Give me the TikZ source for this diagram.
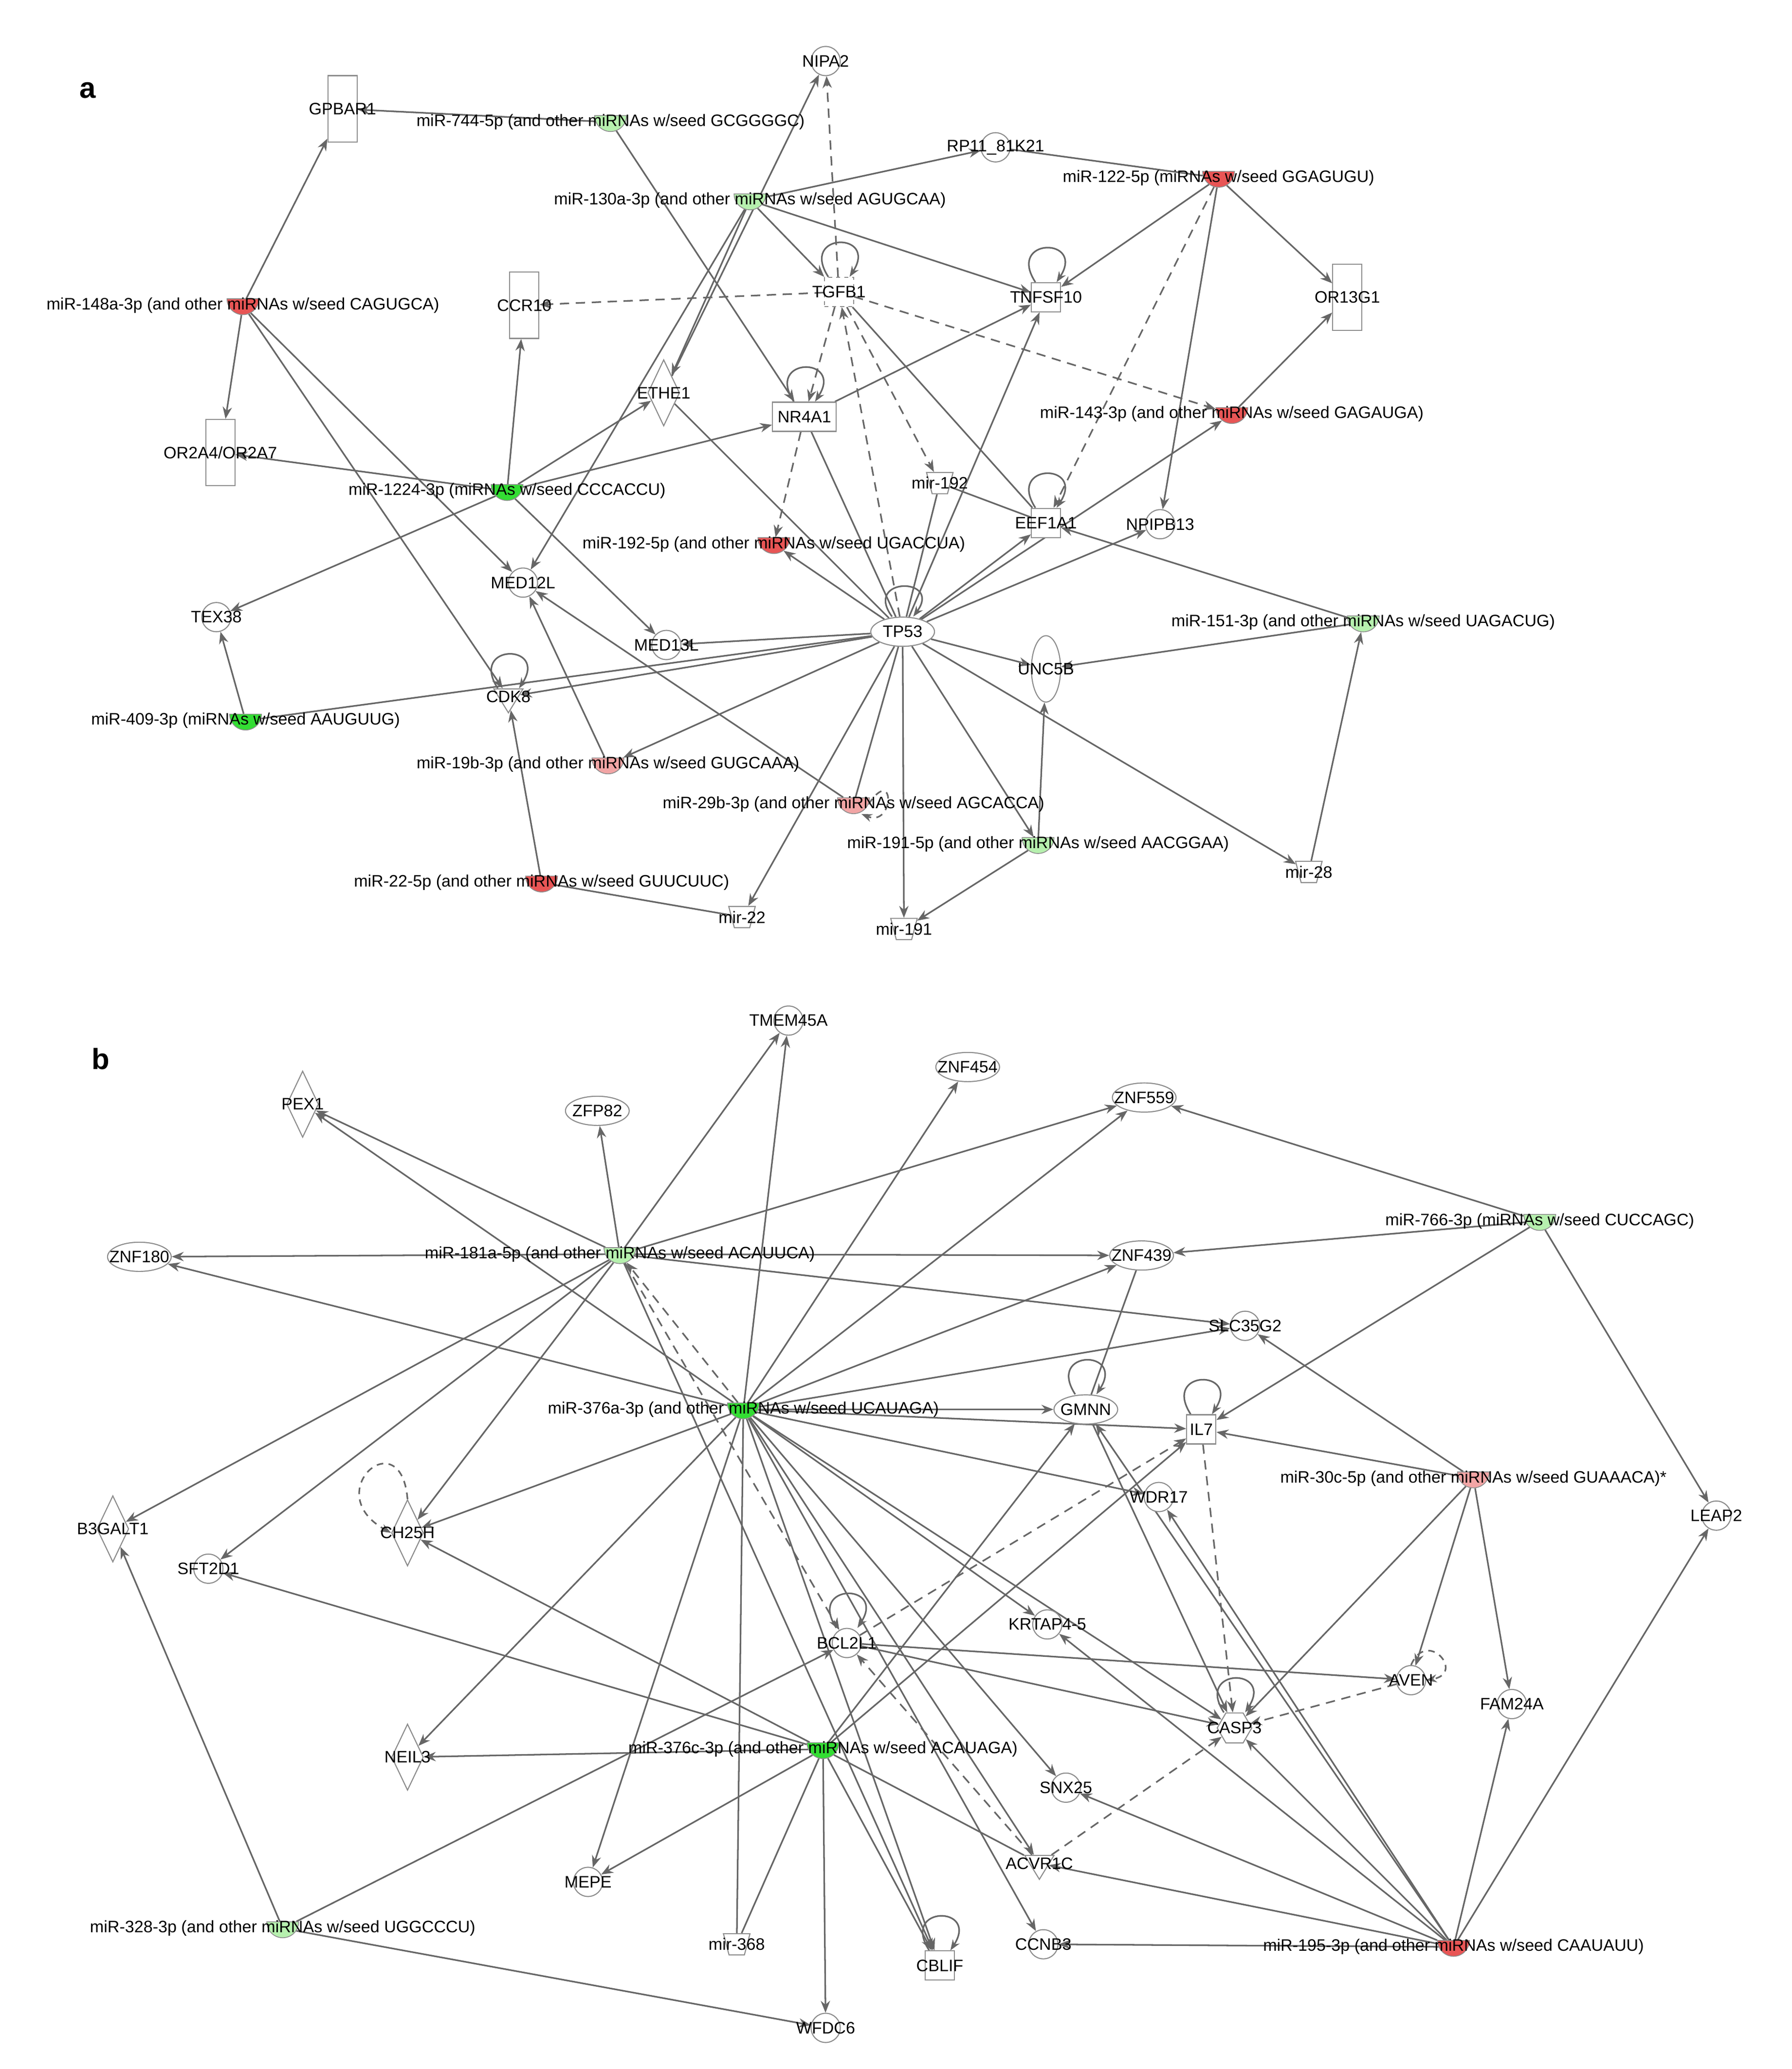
\documentclass[tikz,border=0pt]{standalone}
\usepackage{fontspec}
\setmainfont{Liberation Sans}
\usetikzlibrary{shapes.geometric,arrows.meta,backgrounds}
\definecolor{gG}{HTML}{33DD33}
\definecolor{lG}{HTML}{B6F0AE}
\definecolor{rR}{HTML}{E85555}
\definecolor{pR}{HTML}{F2A5A5}
\definecolor{ln}{HTML}{666666}
\definecolor{bd}{HTML}{8C8C8C}
\begin{document}
\begin{tikzpicture}[x=1pt,y=-1pt,
  every label/.style={font=\fontsize{12.5}{14}\selectfont,inner sep=0},
  base/.style={draw=bd,fill=white,inner sep=0,line width=0.8pt},
  circ/.style={base,circle,minimum size=22pt},
  sq/.style={base,rectangle,minimum size=22pt},
  trect/.style={base,rectangle,minimum width=22pt,minimum height=50pt},
  wrect/.style={base,rectangle,minimum width=48pt,minimum height=22pt},
  dia/.style={base,diamond,minimum width=24pt,minimum height=50pt},
  ell/.style={base,ellipse,minimum width=48pt,minimum height=22pt},
  tell/.style={base,ellipse,minimum width=22pt,minimum height=50pt},
  tri/.style={base,inner sep=1pt,isosceles triangle,shape border rotate=270,minimum width=22pt,minimum height=18pt,isosceles triangle stretches},
  trap/.style={base,inner sep=1pt,trapezium,trapezium stretches=true,shape border rotate=180,minimum width=20pt,minimum height=16pt,trapezium left angle=70,trapezium right angle=70},
  hex/.style={base,regular polygon,regular polygon sides=6,minimum size=26pt},
  mir/.style={semicircle,shape border rotate=180,draw=bd,line width=0.6pt,fill=#1,minimum width=24pt,inner sep=1pt,minimum height=12pt},
  e/.style={draw=ln,line width=1.2pt,-{Stealth[length=9pt,width=7pt]}},
  l/.style={draw=ln,line width=1.2pt},
  d/.style={e,dash pattern=on 7pt off 5pt},
  lp/.style={draw=ln,line width=1.2pt,-{Stealth[length=8pt,width=6pt]}},
  dlp/.style={lp,dash pattern=on 5pt off 4pt}]
\useasboundingbox (0,0) rectangle (1350,1559);
\node[font=\fontsize{22}{24}\selectfont\bfseries] (la) at (66,68) {a};
\node[font=\fontsize{22}{24}\selectfont\bfseries] (lb) at (76,798) {b};
% ---------- panel a nodes
\node[trect,label={center:GPBAR1}] (gpbar1) at (258,82) {};
\node[mir=lG,label={center:miR-744-5p (and other miRNAs w/seed GCGGGGC)}] (m744) at (460,92) {};
\node[circ,label={center:NIPA2}] (nipa2) at (622,46) {};
\node[circ,label={center:RP11\_81K21}] (rp11) at (750,111) {};
\node[mir=rR,label={center:miR-122-5p (miRNAs w/seed GGAGUGU)}] (m122) at (918,134) {};
\node[mir=lG,label={center:miR-130a-3p (and other miRNAs w/seed AGUGCAA)}] (m130) at (565,151) {};
\node[sq,dashed,label={center:TGFB1}] (tgfb1) at (632,220) {};
\node[sq,label={center:TNFSF10}] (tnfsf10) at (788,224) {};
\node[trect,label={center:OR13G1}] (or13g1) at (1015,224) {};
\node[trect,label={center:CCR10}] (ccr10) at (395,230) {};
\node[mir=rR,label={center:miR-148a-3p (and other miRNAs w/seed CAGUGCA)}] (m148) at (183,230) {};
\node[dia,label={center:ETHE1}] (ethe1) at (500,296) {};
\node[wrect,label={center:NR4A1}] (nr4a1) at (606,314) {};
\node[mir=rR,label={center:miR-143-3p (and other miRNAs w/seed GAGAUGA)}] (m143) at (928,312) {};
\node[trect,label={center:OR2A4/OR2A7}] (or2a4) at (166,341) {};
\node[mir=gG,label={center:miR-1224-3p (miRNAs w/seed CCCACCU)}] (m1224) at (382,370) {};
\node[trap,label={center:mir-192}] (mir192) at (708,364) {};
\node[sq,label={center:EEF1A1}] (eef1a1) at (788,394) {};
\node[circ,label={center:NPIPB13}] (npipb13) at (874,395) {};
\node[mir=rR,label={center:miR-192-5p (and other miRNAs w/seed UGACCUA)}] (m192) at (583,410) {};
\node[circ,label={center:MED12L}] (med12l) at (394,439) {};
\node[circ,label={center:TEX38}] (tex38) at (163,465) {};
\node[ell,label={center:TP53}] (tp53) at (680,476) {};
\node[mir=lG,label={center:miR-151-3p (and other miRNAs w/seed UAGACUG)}] (m151) at (1027,469) {};
\node[circ,label={center:MED13L}] (med13l) at (502,486) {};
\node[tell,label={center:UNC5B}] (unc5b) at (788,504) {};
\node[tri,label={center:CDK8}] (cdk8) at (383,525) {};
\node[mir=gG,label={center:miR-409-3p (miRNAs w/seed AAUGUUG)}] (m409) at (185,543) {};
\node[mir=pR,label={center:miR-19b-3p (and other miRNAs w/seed GUGCAAA)}] (m19b) at (458,576) {};
\node[mir=pR,label={center:miR-29b-3p (and other miRNAs w/seed AGCACCA)}] (m29b) at (643,606) {};
\node[mir=lG,label={center:miR-191-5p (and other miRNAs w/seed AACGGAA)}] (m191) at (782,636) {};
\node[trap,label={center:mir-28}] (mir28) at (986,657) {};
\node[mir=rR,label={center:miR-22-5p (and other miRNAs w/seed GUUCUUC)}] (m22) at (408,665) {};
\node[trap,label={center:mir-22}] (mir22) at (559,691) {};
\node[trap,label={center:mir-191}] (mir191) at (681,700) {};
% ---------- panel b nodes
\node[circ,label={center:TMEM45A}] (tmem) at (594,769) {};
\node[ell,label={center:ZNF454}] (znf454) at (729,804) {};
\node[dia,label={center:PEX1}] (pex1) at (228,832) {};
\node[ell,label={center:ZFP82}] (zfp82) at (450,837) {};
\node[ell,label={center:ZNF559}] (znf559) at (862,827) {};
\node[mir=lG,label={center:miR-766-3p (miRNAs w/seed CUCCAGC)}] (m766) at (1160,920) {};
\node[ell,label={center:ZNF180}] (znf180) at (105,947) {};
\node[mir=lG,label={center:miR-181a-5p (and other miRNAs w/seed ACAUUCA)}] (m181) at (467,945) {};
\node[ell,label={center:ZNF439}] (znf439) at (860,946) {};
\node[circ,label={center:SLC35G2}] (slc) at (938,999) {};
\node[mir=gG,label={center:miR-376a-3p (and other miRNAs w/seed UCAUAGA)}] (m376a) at (560,1062) {};
\node[ell,label={center:GMNN}] (gmnn) at (818,1062) {};
\node[sq,label={center:IL7}] (il7) at (905,1077) {};
\node[mir=pR,label={center:miR-30c-5p (and other miRNAs w/seed GUAAACA)*}] (m30c) at (1110,1114) {};
\node[circ,label={center:WDR17}] (wdr17) at (873,1128) {};
\node[circ,label={center:LEAP2}] (leap2) at (1293,1142) {};
\node[dia,label={center:B3GALT1}] (b3galt1) at (85,1152) {};
\node[dia,label={center:CH25H}] (ch25h) at (307,1155) {};
\node[circ,label={center:SFT2D1}] (sft2d1) at (157,1182) {};
\node[circ,label={center:KRTAP4-5}] (krtap) at (789,1224) {};
\node[circ,label={center:BCL2L1}] (bcl2l1) at (638,1238) {};
\node[circ,label={center:AVEN}] (aven) at (1063,1266) {};
\node[circ,label={center:FAM24A}] (fam24a) at (1139,1284) {};
\node[hex,label={center:CASP3}] (casp3) at (930,1302) {};
\node[dia,label={center:NEIL3}] (neil3) at (307,1324) {};
\node[mir=gG,label={center:miR-376c-3p (and other miRNAs w/seed ACAUAGA)}] (m376c) at (620,1318) {};
\node[circ,label={center:SNX25}] (snx25) at (803,1347) {};
\node[tri,label={center:ACVR1C}] (acvr1c) at (783,1404) {};
\node[circ,label={center:MEPE}] (mepe) at (443,1418) {};
\node[mir=lG,label={center:miR-328-3p (and other miRNAs w/seed UGGCCCU)}] (m328) at (213,1453) {};
\node[trap,label={center:mir-368}] (mir368) at (555,1465) {};
\node[sq,label={center:CBLIF}] (cblif) at (708,1481) {};
\node[circ,label={center:CCNB3}] (ccnb3) at (786,1465) {};
\node[mir=rR,label={center:miR-195-3p (and other miRNAs w/seed CAAUAUU)}] (m195) at (1095,1467) {};
\node[circ,label={center:WFDC6}] (wfdc6) at (622,1528) {};
\begin{pgfonlayer}{background}
% ---------- panel a edges
\path[e] (m744) -- (gpbar1);
\path[e] (m744) -- (nr4a1);
\path[e] (m130) -- (rp11);
\path[e] (m130) -- (tgfb1);
\path[e] (m130) -- (tnfsf10);
\path[e] (m130) -- (med12l);
\path[e] (m130) -- (ethe1);
\path[e] (ethe1) -- (nipa2);
\path[d] (tgfb1) -- (nipa2);
\path[l] (m122) -- (rp11);
\path[e] (m122) -- (tnfsf10);
\path[e] (m122) -- (or13g1);
\path[e] (m122) -- (npipb13);
\path[d] (m122) -- (eef1a1);
\path[d] (tgfb1) -- (ccr10);
\path[d] (tgfb1) -- (m143);
\path[d] (tgfb1) -- (nr4a1);
\path[d] (tgfb1) -- (mir192);
\path[d] (tp53) -- (tgfb1);
\path[l] (tgfb1) -- (eef1a1);
\path[e] (nr4a1) -- (tnfsf10);
\path[e] (tp53) -- (tnfsf10);
\path[e] (m143) -- (or13g1);
\path[e] (m148) -- (gpbar1);
\path[e] (m148) -- (or2a4);
\path[e] (m148) -- (med12l);
\path[e] (m148) -- (cdk8);
\path[e] (m1224) -- (ccr10);
\path[e] (m1224) -- (or2a4);
\path[e] (m1224) -- (ethe1);
\path[e] (m1224) -- (nr4a1);
\path[e] (m1224) -- (tex38);
\path[e] (m1224) -- (med13l);
\path[l] (ethe1) -- (tp53);
\path[l] (nr4a1) -- (tp53);
\path[d] (nr4a1) -- (m192);
\path[l] (mir192) -- (tp53);
\path[l] (mir192) -- (eef1a1);
\path[e] (tp53) -- (m143);
\path[e] (tp53) -- (eef1a1);
\path[e] (tp53) -- (npipb13);
\path[e] (tp53) -- (m192);
\path[e] (tp53) -- (med13l);
\path[e] (tp53) -- (cdk8);
\path[l] (m409) -- (tp53);
\path[e] (m409) -- (tex38);
\path[e] (tp53) -- (unc5b);
\path[e] (tp53) -- (m19b);
\path[l] (tp53) -- (m29b);
\path[e] (tp53) -- (mir22);
\path[e] (tp53) -- (mir191);
\path[e] (tp53) -- (m191);
\path[e] (tp53) -- (mir28);
\path[e] (m151) -- (unc5b);
\path[e] (m151) -- (eef1a1);
\path[e] (mir28) -- (m151);
\path[e] (m191) -- (unc5b);
\path[e] (m191) -- (mir191);
\path[e] (m19b) -- (med12l);
\path[e] (m29b) -- (med12l);
\path[e] (m22) -- (cdk8);
\path[l] (m22) -- (mir22);
% self loops
\foreach \n in {tgfb1,tnfsf10,nr4a1,eef1a1,cdk8,gmnn,il7,bcl2l1,casp3,cblif}
  \path[lp] ([xshift=-8pt]\n.north) .. controls +(-22,-34) and +(22,-34) .. ([xshift=8pt]\n.north);
\path[lp] ([xshift=-8pt]tp53.north) .. controls +(-22,-30) and +(22,-30) .. ([xshift=8pt]tp53.north);
\path[dlp] (m29b.east) .. controls +(20,-30) and +(25,10) .. ([xshift=6pt]m29b.south);
\path[dlp] (aven.north) .. controls +(12,-28) and +(30,-5) .. (aven.east);
\path[dlp] (ch25h.north) .. controls +(-5,-60) and +(-55,-30) .. (ch25h.west);
% ---------- panel b edges
\foreach \t in {pex1,zfp82,tmem,znf559,znf180,znf439,slc,b3galt1,sft2d1,ch25h,cblif}
  \path[e] (m181) -- (\t);
\path[d] (m181) -- (bcl2l1);
\foreach \t in {pex1,tmem,znf454,znf559,znf439,slc,gmnn,il7,wdr17,znf180,ch25h,neil3,mepe,krtap,casp3,snx25,ccnb3,acvr1c,cblif}
  \path[e] (m376a) -- (\t);
\path[l] (m376a) -- (mir368);
\path[d] (m376a) -- (m181);
\foreach \t in {znf559,znf439,il7,leap2}
  \path[e] (m766) -- (\t);
\foreach \t in {slc,il7,aven,fam24a,casp3}
  \path[e] (m30c) -- (\t);
\foreach \t in {wdr17,leap2,fam24a,casp3,krtap,snx25,ccnb3,acvr1c,gmnn}
  \path[e] (m195) -- (\t);
\foreach \t in {sft2d1,ch25h,neil3,mepe,wfdc6,cblif,il7,gmnn}
  \path[e] (m376c) -- (\t);
\path[l] (m376c) -- (mir368);
\path[l] (m376c) -- (acvr1c);
\path[e] (m328) -- (b3galt1);
\path[e] (m328) -- (wfdc6);
\path[e] (m328) -- (bcl2l1);
\path[e] (bcl2l1) -- (aven);
\path[e] (bcl2l1) -- (casp3);
\path[d] (bcl2l1) -- (il7);
\path[d] (acvr1c) -- (casp3);
\path[d] (aven) -- (casp3);
\path[d] (il7) -- (casp3);
\path[e] (gmnn) -- (casp3);
\path[l] (znf439) -- (gmnn);
\path[d] (acvr1c) -- (bcl2l1);
\end{pgfonlayer}
\end{tikzpicture}
\end{document}
